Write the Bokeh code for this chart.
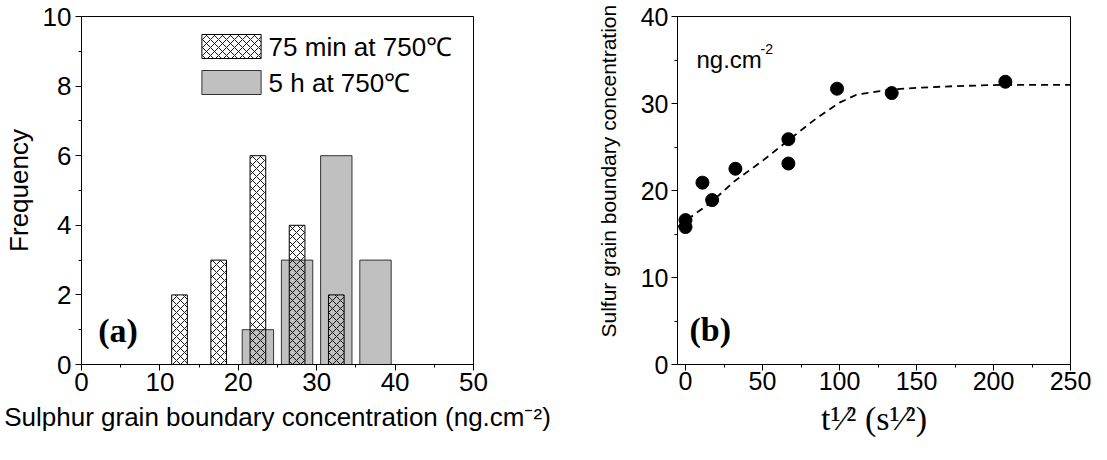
from bokeh.plotting import figure
from bokeh.models import Label, Legend, LegendItem, SingleIntervalTicker, Range1d, Title
from bokeh.layouts import row
from bokeh.embed import file_html
from bokeh.resources import INLINE

# ---------------- data ----------------
# (a) histogram of sulphur grain boundary concentration
bins_75min = [12.5, 17.5, 22.5, 27.5, 32.5]
freq_75min = [2, 3, 6, 4, 2]
bins_5h = [22.5, 27.5, 32.5, 37.5]
freq_5h = [1, 3, 6, 3]
label_75min = "75 min at 750℃"
label_5h = "5 h at 750℃"
title_a_x = "Sulphur grain boundary concentration (ng.cm⁻²)"
title_a_y = "Frequency"

# (b) sulfur grain boundary concentration vs sqrt(t)
sqrt_t = [0, 0, 11, 17.3, 32.4, 66.8, 66.8, 98.4, 133.9, 207.7]
s_conc = [16.6, 15.8, 20.9, 18.9, 22.5, 25.9, 23.1, 31.7, 31.2, 32.5]
fit_sqrt_t = [-5, 0, 17, 32, 50, 67, 85, 100, 111, 125, 134, 150, 175, 207, 250]
fit_conc = [15.8, 16.5, 18.7, 21.1, 23.4, 25.8, 28.3, 30.1, 31.0, 31.4, 31.6, 31.8, 32.0, 32.15, 32.15]
title_b_x = "t¹⁄² (s¹⁄²)"
title_b_y = "Sulfur grain boundary concentration"

SANS = "Liberation Sans"
SERIF = "Liberation Serif"


def style_axes(p, tick_size):
    for ax in (p.xaxis[0], p.yaxis[0]):
        ax.axis_line_color = "black"
        ax.axis_line_width = 1
        ax.major_tick_line_color = "black"
        ax.minor_tick_line_color = "black"
        ax.major_tick_in = 0
        ax.major_tick_out = 6
        ax.minor_tick_in = 0
        ax.minor_tick_out = 3
        ax.major_label_text_font = SANS
        ax.major_label_text_font_size = tick_size
        ax.major_label_text_color = "black"
        ax.axis_label_text_color = "black"
        ax.axis_label_text_font_style = "normal"
    p.grid.visible = False
    p.outline_line_color = "black"
    p.outline_line_width = 1


# ---------------- panel (a) ----------------
p1 = figure(width=575, height=444, x_range=Range1d(0, 50), y_range=Range1d(0, 10),
            output_backend="svg", toolbar_location=None,
            min_border_left=75, min_border_right=102, min_border_top=16, min_border_bottom=76)
style_axes(p1, "26px")
p1.xaxis.major_label_standoff = 2
p1.yaxis.major_label_standoff = 4
p1.xaxis.ticker = SingleIntervalTicker(interval=10, num_minor_ticks=2)
p1.yaxis.ticker = SingleIntervalTicker(interval=2, num_minor_ticks=2)
p1.yaxis.axis_label = title_a_y
p1.yaxis.axis_label_text_font = SANS
p1.yaxis.axis_label_text_font_size = "26px"
p1.yaxis.axis_label_standoff = 6
p1.xaxis.axis_label = title_a_x
p1.xaxis.axis_label_text_font = SANS
p1.xaxis.axis_label_text_font_size = "26px"
p1.xaxis.axis_label_standoff = 8

r_5h = p1.vbar(x=bins_5h, top=freq_5h, width=4, bottom=0,
               fill_color="#c0c0c0", line_color="#333333", line_width=1)
r_75 = p1.vbar(x=bins_75min, top=freq_75min, width=2, bottom=0,
               fill_alpha=0, line_color="black", line_width=1,
               hatch_pattern="diagonal_cross", hatch_color="black", hatch_scale=8, hatch_weight=0.9)

legend = Legend(items=[LegendItem(label=label_75min, renderers=[r_75]),
                       LegendItem(label=label_5h, renderers=[r_5h])],
                location=(112.6, 264), glyph_width=74, glyph_height=30, label_height=33,
                label_standoff=1, spacing=0, padding=0, margin=0,
                border_line_alpha=0, background_fill_alpha=0,
                label_text_font=SANS, label_text_font_size="26px", label_text_color="black")
p1.add_layout(legend)

p1.add_layout(Label(x=2.14, y=0.99, text="(a)", text_font=SERIF, text_font_style="bold",
                    text_font_size="34px", text_baseline="alphabetic", text_color="black"))

# ---------------- panel (b) ----------------
p2 = figure(width=516, height=444, x_range=Range1d(-5.2, 250), y_range=Range1d(0, 40),
            output_backend="svg", toolbar_location=None,
            min_border_left=102, min_border_right=21, min_border_top=14, min_border_bottom=80)
style_axes(p2, "25px")
p2.xaxis.major_label_standoff = 1
p2.yaxis.major_label_standoff = 3
p2.xaxis.ticker = SingleIntervalTicker(interval=50, num_minor_ticks=2)
p2.yaxis.ticker = SingleIntervalTicker(interval=10, num_minor_ticks=2)
p2.xaxis.axis_label = title_b_x
p2.xaxis.axis_label_text_font = SERIF
p2.xaxis.axis_label_text_font_size = "34px"
p2.xaxis.axis_label_standoff = 7
p2.add_layout(Title(text=title_b_y, align="left", offset=27, vertical_align="bottom",
                    standoff=35, text_font=SANS, text_font_size="21px",
                    text_font_style="normal", text_color="black"), "left")

p2.line(fit_sqrt_t, fit_conc, line_color="black", line_width=1.8, line_dash="7 5")
p2.scatter(sqrt_t, s_conc, size=13, color="black")

p2.add_layout(Label(x=7.14, y=35.09, text="ng.cm", text_font=SANS, text_font_size="24px",
                    text_baseline="alphabetic", text_color="black"))
p2.add_layout(Label(x=48.7, y=36.23, text="-2", text_font=SANS, text_font_size="14px",
                    text_baseline="alphabetic", text_color="black"))
p2.add_layout(Label(x=2.6, y=4.0, text="(b)", text_font=SERIF, text_font_style="bold",
                    text_font_size="34px", text_baseline="alphabetic", text_color="black"))

layout = row(p1, p2)
open("out.html", "w").write(file_html(layout, INLINE))
